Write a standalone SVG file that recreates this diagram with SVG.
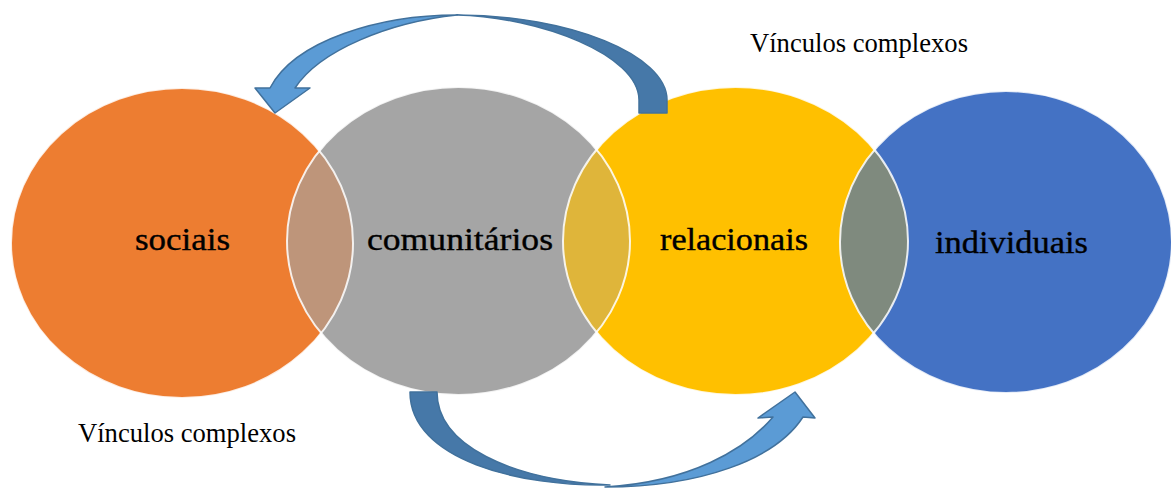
<svg xmlns="http://www.w3.org/2000/svg" width="1171" height="488" viewBox="0 0 1171 488">
<style>
.node{stroke:none}
.rim{fill:none;stroke:#ffffff;stroke-width:2;stroke-opacity:0.85}
.lbl{font-family:"Liberation Serif","Times New Roman",serif;font-size:31px;fill:#000;stroke:#000;stroke-width:0.35}
.cap{font-family:"Liberation Serif","Times New Roman",serif;font-size:26.5px;fill:#000}
.dark{fill:#4678A8;stroke:#41719C;stroke-width:1.5;stroke-linejoin:round}
.light{fill:#5B9BD5;stroke:#41719C;stroke-width:1.5;stroke-linejoin:round}
</style>
<defs>
<clipPath id="cOrange"><ellipse cx="182" cy="243" rx="171" ry="155"/></clipPath>
<clipPath id="cGray"><ellipse cx="458.5" cy="241" rx="171.5" ry="154"/></clipPath>
<clipPath id="cYellow"><ellipse cx="735.5" cy="241" rx="172.5" ry="154"/></clipPath>
</defs>
<rect width="1171" height="488" fill="#ffffff"/>
<g id="node-sociais">
<ellipse class="node" cx="182" cy="243" rx="171" ry="155" fill="#ED7D31"/>
</g>
<g id="node-comunitarios">
<ellipse class="node" cx="458.5" cy="241" rx="171.5" ry="154" fill="#A5A5A5"/>
</g>
<g id="node-relacionais">
<ellipse class="node" cx="735.5" cy="241" rx="172.5" ry="154" fill="#FFC000"/>
</g>
<g id="node-individuais">
<ellipse class="node" cx="1006" cy="242" rx="166" ry="151" fill="#4472C4"/>
</g>
<g id="overlaps">
<ellipse cx="458.5" cy="241" rx="171.5" ry="154" fill="#BE957A" clip-path="url(#cOrange)"/>
<ellipse cx="735.5" cy="241" rx="172.5" ry="154" fill="#DFB53A" clip-path="url(#cGray)"/>
<ellipse cx="1006" cy="242" rx="166" ry="151" fill="#7F8A7E" clip-path="url(#cYellow)"/>
<ellipse class="rim" cx="182" cy="243" rx="171" ry="155"/>
<ellipse class="rim" cx="458.5" cy="241" rx="171.5" ry="154"/>
<ellipse class="rim" cx="735.5" cy="241" rx="172.5" ry="154"/>
<ellipse class="rim" cx="1006" cy="242" rx="166" ry="151"/>
</g>
<g id="labels">
<text class="lbl" x="135" y="250" textLength="95" lengthAdjust="spacingAndGlyphs">sociais</text>
<text class="lbl" x="367" y="250" textLength="186" lengthAdjust="spacingAndGlyphs">comunitários</text>
<text class="lbl" x="660" y="250" textLength="148" lengthAdjust="spacingAndGlyphs">relacionais</text>
<text class="lbl" x="935" y="253" textLength="153" lengthAdjust="spacingAndGlyphs">individuais</text>
</g>
<g id="connectors">
<path class="dark" d="M639,113 L667,113 L667,100 C667,55 570,15 457,15 C540,17 639,55 639,100 Z"/>
<path class="light" d="M457,15 C380,15 295,40 270,88 L255,88 L275,113 L310,88 L295,88 C320,50 390,22 457,15 Z"/>
<path class="dark" d="M410,392 L437,392 C437,445 510,480 610,485 C520,487 410,460 410,392 Z"/>
<path class="light" d="M605,487 C700,487 775,460 803,417 L815,418 L795,392 L758,418 L773,417 C745,450 690,482 605,487 Z"/>
</g>
<g id="captions">
<text class="cap" x="750" y="52" textLength="218" lengthAdjust="spacingAndGlyphs">Vínculos complexos</text>
<text class="cap" x="78" y="442" textLength="218" lengthAdjust="spacingAndGlyphs">Vínculos complexos</text>
</g>
</svg>
